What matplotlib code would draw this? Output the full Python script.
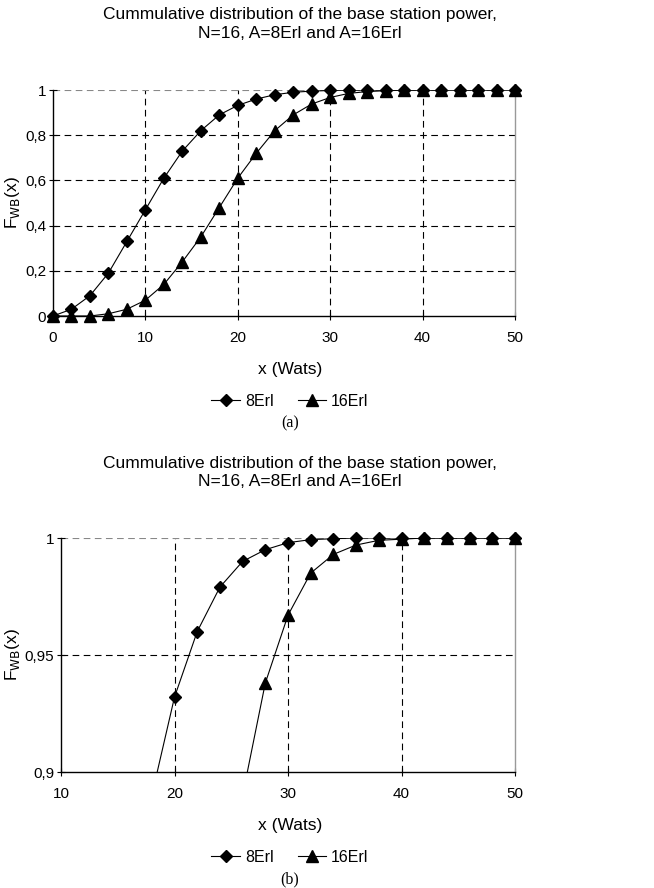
import numpy as np
import matplotlib.pyplot as plt
from matplotlib.lines import Line2D
from matplotlib.ticker import FuncFormatter

plt.rcParams['font.family'] = ['Liberation Sans Narrow', 'Liberation Sans', 'DejaVu Sans']

# data
x = np.arange(0, 52, 2)
erl8 = [0.0, 0.03, 0.09, 0.19, 0.33, 0.47, 0.61, 0.73, 0.82, 0.89,
        0.932, 0.960, 0.979, 0.990, 0.995, 0.998, 0.9993, 0.9997, 1.0, 1.0,
        1.0, 1.0, 1.0, 1.0, 1.0, 1.0]
erl16 = [0.0, 0.0, 0.0, 0.01, 0.03, 0.07, 0.14, 0.24, 0.35, 0.48,
         0.61, 0.72, 0.82, 0.89, 0.938, 0.967, 0.985, 0.993, 0.997, 0.999,
         0.9995, 1.0, 1.0, 1.0, 1.0, 1.0]
labels = ['8Erl', '16Erl']
markers = ['D', '^']
msizes = [6.5, 8]
title = 'Cummulative distribution of the base station power,\nN=16, A=8Erl and A=16Erl'

W, H = 654, 888
fig = plt.figure(figsize=(W / 100, H / 100), dpi=100)

comma = FuncFormatter(lambda v, p: ('%g' % v).replace('.', ','))


def fy(py):
    return 1 - py / H


def panel(left, right, top, bottom, xlim, ylim, yticks, xticks, tag):
    ax = fig.add_axes([left / W, fy(bottom), (right - left) / W, (bottom - top) / H])
    handles = []
    for ys, m, ms in zip([erl8, erl16], markers, msizes):
        ys = np.array(ys)
        # line is clipped to the plot area, markers only where visible
        ax.plot(x, ys, '-', color='black', lw=0.8)
        keep = (ys >= ylim[0]) & (x >= xlim[0])
        ax.plot(x[keep], ys[keep], ls='none', marker=m, ms=ms, color='black', clip_on=False, zorder=3)
        handles.append(Line2D([], [], color='black', lw=0.8, marker=m, ms=ms))
    ax.set_xlim(*xlim)
    ax.set_ylim(*ylim)
    ax.set_xticks(xticks)
    ax.set_yticks(yticks)
    ax.yaxis.set_major_formatter(comma)
    for xv in xticks[1:-1]:
        ax.axvline(xv, color='black', lw=0.8, ls=(0, (6, 4)), zorder=0)
    for yv in yticks[1:-1]:
        ax.axhline(yv, color='black', lw=0.8, ls=(0, (6, 4)), zorder=0)
    ax.axhline(yticks[-1], color='#888888', lw=0.8, ls=(0, (6, 4)), zorder=0)
    ax.spines['top'].set_visible(False)
    ax.spines['right'].set_color('#999999')
    ax.spines['right'].set_linewidth(1.0)
    ax.spines['left'].set_linewidth(1.0)
    ax.spines['bottom'].set_linewidth(1.0)
    ax.tick_params(direction='inout', length=6, width=0.8, labelsize=11)
    ax.tick_params(axis='x', pad=8)
    ax.tick_params(axis='y', pad=2)
    ax.set_ylabel(r'F$_{\mathrm{WB}}$(x)', fontsize=12.5)
    ax.yaxis.set_label_coords((22 - left) / (right - left), 0.5)
    cx = 290 / W
    fig.text(300 / W, fy(top - 66), title, ha='center', va='center', fontsize=12.5, linespacing=1.25)
    fig.text(cx, fy(bottom + 53), 'x (Wats)', ha='center', va='center', fontsize=12.5)
    fig.legend(handles=handles, labels=labels, loc='center', bbox_to_anchor=(cx, fy(bottom + 85)),
               ncol=2, frameon=False, fontsize=11.5, handlelength=1.8, handletextpad=0.3,
               columnspacing=1.5, borderpad=0)
    fig.text(cx, fy(bottom + 107), tag, ha='center', va='center', fontsize=11.5, family='Liberation Serif')
    return ax


panel(53, 515, 90, 316, (0, 50), (0, 1),
      [0, 0.2, 0.4, 0.6, 0.8, 1], [0, 10, 20, 30, 40, 50], '(a)')
panel(61, 515, 538, 772, (10, 50), (0.9, 1),
      [0.9, 0.95, 1], [10, 20, 30, 40, 50], '(b)')

fig.savefig('out.png', dpi=100)
